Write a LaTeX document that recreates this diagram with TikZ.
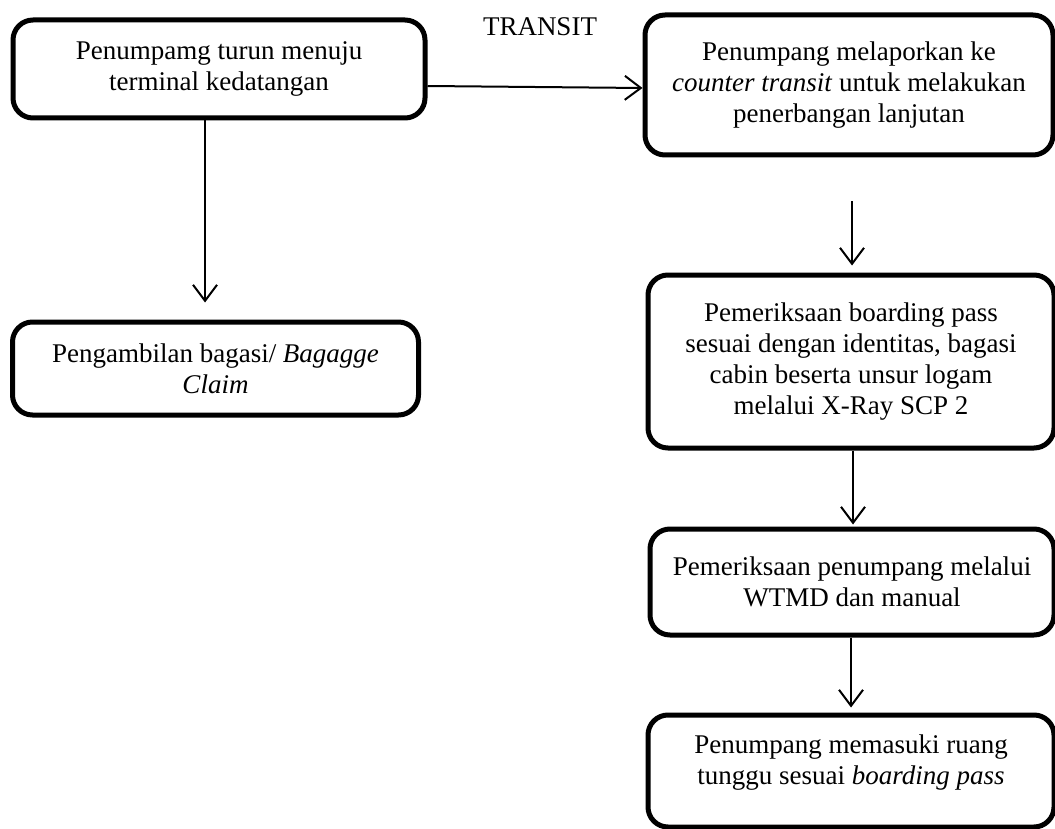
\documentclass[tikz,border=0pt]{standalone}
\usepackage{fontspec}
\setmainfont{Liberation Serif}
\usetikzlibrary{arrows.meta,calc}
\begin{document}
\begin{tikzpicture}[x=1pt,y=-1pt,
  box/.style={draw, line width=5pt, rounded corners=20pt, align=center, inner sep=0pt,
    font=\fontsize{27}{31}\selectfont},
  arr/.style={line width=2pt, -{Straight Barb[length=16pt,width=24pt,line width=2pt]}},
  lbl/.style={font=\fontsize{27}{31}\selectfont}]
\useasboundingbox (0,0) rectangle (1055,829);
\node[box, minimum width=412pt, minimum height=98pt] (A) at (219,69)
  {Penumpamg turun menuju\\terminal kedatangan};
\node[box, minimum width=408pt, minimum height=140pt] (B) at (849,85)
  {Penumpang melaporkan ke\\\textit{counter transit} untuk melakukan\\penerbangan lanjutan};
\node[box, minimum width=406pt, minimum height=93pt] (C) at (215.5,368.5)
  {Pengambilan bagasi/ \textit{Bagagge}\\\textit{Claim}};
\node[box, minimum width=406pt, minimum height=173pt] (D) at (851,361.5)
  {Pemeriksaan boarding pass\\sesuai dengan identitas, bagasi\\cabin beserta unsur logam\\melalui X-Ray SCP 2};
\node[box, minimum width=404pt, minimum height=106pt] (E) at (852,582)
  {Pemeriksaan penumpang melalui\\WTMD dan manual};
\node[box, minimum width=406pt, minimum height=112pt] (F) at (851,771)
  {Penumpang memasuki ruang\\tunggu sesuai \textit{boarding pass}\\[-8pt]};
\node[lbl] (T) at (540,27) {TRANSIT};
\draw[arr] ([yshift=-17pt]A.east) -- ([yshift=-3pt]B.west);
\draw[arr] ([xshift=-14pt]A.south) -- ([xshift=-10.5pt,yshift=17pt]C.north);
\draw[arr] ([xshift=3pt,yshift=-44pt]B.south) -- ([xshift=1pt,yshift=7pt]D.north);
\draw[arr] ([xshift=2pt]D.south) -- ([xshift=1pt,yshift=2pt]E.north);
\draw[arr] ([xshift=-1pt]E.south) -- ([yshift=5pt]F.north);
\end{tikzpicture}
\end{document}
